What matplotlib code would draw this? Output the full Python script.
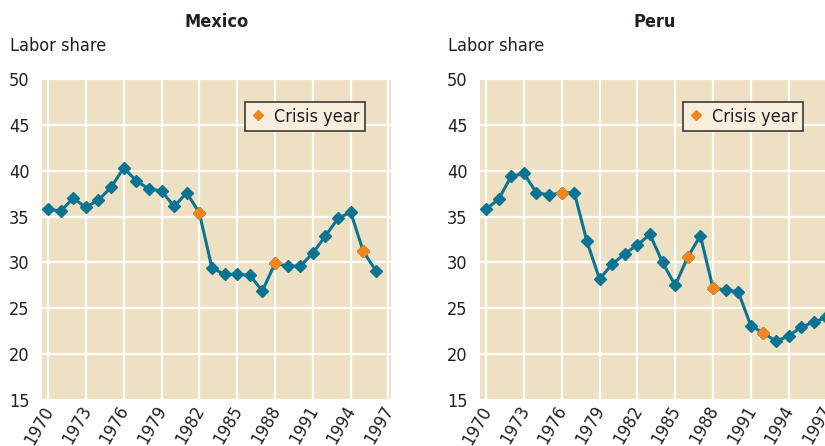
import matplotlib.pyplot as plt
from matplotlib.lines import Line2D
from matplotlib.transforms import ScaledTranslation

plt.rcParams['font.family'] = ['DejaVu Sans']
plt.rcParams['font.stretch'] = 'condensed'

years_mex = list(range(1970, 1997))
mexico = [35.8, 35.6, 37.0, 36.0, 36.8, 38.2, 40.3, 38.9, 38.0, 37.8,
          36.1, 37.6, 35.4, 29.4, 28.7, 28.7, 28.6, 26.9, 29.9, 29.6,
          29.6, 31.0, 32.9, 34.8, 35.5, 31.2, 29.1]
crisis_mex = [1982, 1988, 1995]

years_peru = list(range(1970, 1998))
peru = [35.8, 36.9, 39.4, 39.7, 37.6, 37.35, 37.6, 37.6, 32.3, 28.2,
        29.8, 30.95, 31.9, 33.05, 30.0, 27.5, 30.6, 32.9, 27.2, 27.0,
        26.8, 23.1, 22.3, 21.4, 22.0, 22.95, 23.5, 24.0]
crisis_peru = [1976, 1986, 1988, 1992]

xtick_years = list(range(1970, 1998, 3))
ytick_vals = [15, 20, 25, 30, 35, 40, 45, 50]

BG = "#EEE1C3"
TEAL = "#0B7493"
ORANGE = "#F0861C"
TXT = "#231F20"
FS = 13

fig = plt.figure(figsize=(8.25, 4.46), dpi=100)

W = 349 / 825
H = 321 / 446
B = 46 / 446
panels = [
    ("Mexico", 42 / 825, years_mex, mexico, crisis_mex),
    ("Peru", 480 / 825, years_peru, peru, crisis_peru),
]

# push rotated year labels a little to the right of their gridline
shift = ScaledTranslation(9 / 100, 0, fig.dpi_scale_trans)

for title, left, yrs, vals, crisis in panels:
    ax = fig.add_axes([left, B, W, H])
    ax.set_facecolor(BG)
    ax.set_xlim(1969.52, 1997.2)
    ax.set_ylim(15, 50)
    ax.set_xticks(xtick_years)
    ax.set_yticks(ytick_vals)
    ax.grid(True, color="white", linewidth=1.6)
    ax.set_axisbelow(True)
    for s in ax.spines.values():
        s.set_visible(False)
    ax.tick_params(length=0, labelsize=FS, colors=TXT)
    ax.tick_params(axis="y", pad=9)
    ax.tick_params(axis="x", pad=2)
    for lbl in ax.get_xticklabels():
        lbl.set_rotation(60)
        lbl.set_ha("right")
        lbl.set_va("top")
        lbl.set_transform(lbl.get_transform() + shift)

    ax.plot(yrs, vals, color=TEAL, linewidth=2.2, marker="D", markersize=6.5,
            markerfacecolor=TEAL, markeredgecolor=TEAL, clip_on=False, zorder=3)
    cx = [y for y in yrs if y in crisis]
    cy = [v for y, v in zip(yrs, vals) if y in crisis]
    ax.plot(cx, cy, linestyle="none", marker="D", markersize=6.5,
            markerfacecolor=ORANGE, markeredgecolor=ORANGE, zorder=4)

    handle = Line2D([], [], linestyle="none", marker="D", markersize=5.5,
                    markerfacecolor=ORANGE, markeredgecolor=ORANGE)
    leg = ax.legend([handle], ["Crisis year"], loc="upper right",
                    bbox_to_anchor=(0.925, 0.928), fontsize=FS,
                    fancybox=False, framealpha=1, handlelength=0.8,
                    handletextpad=0.5, borderpad=0.3, borderaxespad=0)
    leg.get_frame().set_facecolor("#F7EEDD")
    leg.get_frame().set_edgecolor("#3A3A3A")
    leg.get_frame().set_linewidth(1.2)
    for t in leg.get_texts():
        t.set_color(TXT)

    fig.text(left + W / 2, 1 - 22 / 446, title, ha="center", va="center",
             fontsize=FS, fontweight="bold", color=TXT)
    fig.text(left - 32 / 825, 1 - 46 / 446, "Labor share", ha="left",
             va="center", fontsize=FS, color=TXT)

fig.savefig("out.png", dpi=100)
